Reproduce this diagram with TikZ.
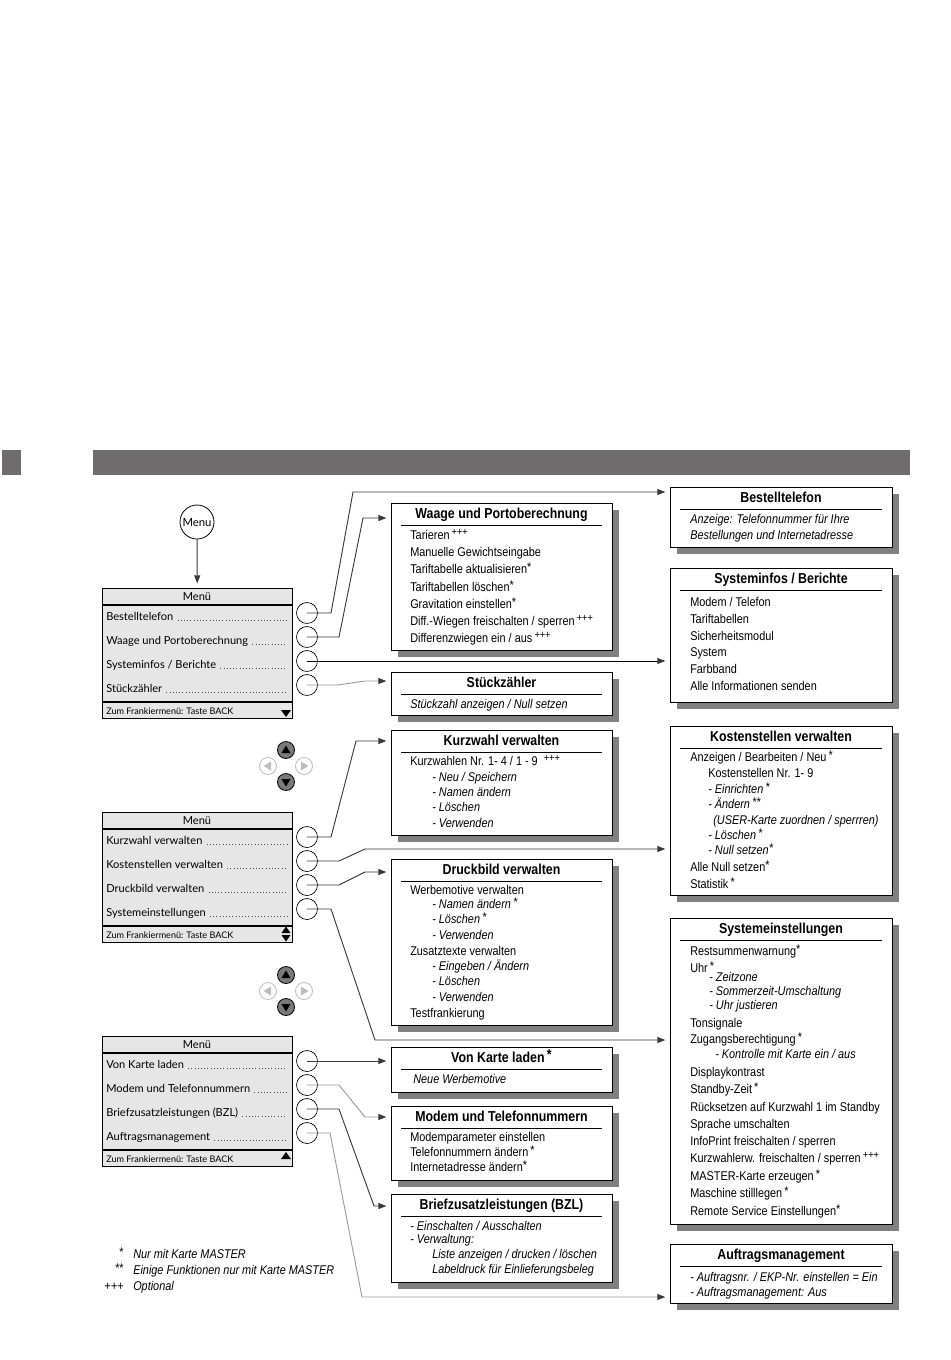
\documentclass[tikz,border=0pt]{standalone}
\usepackage{fontspec}
\setmainfont{Liberation Sans}[FakeStretch=0.86]
\newfontfamily\menufont{Lato}
\usetikzlibrary{arrows.meta,shadows}
\definecolor{barc}{HTML}{6E6C6D}
\definecolor{menufill}{HTML}{E6E6E6}
\definecolor{lndark}{HTML}{3A3A3A}
\definecolor{lnlight}{HTML}{9A9A9A}
\definecolor{shade}{HTML}{808080}
\definecolor{btn}{HTML}{7A7A7A}
\definecolor{btnoff}{HTML}{BDBDBD}
\newcommand\st{\raisebox{1.6pt}{*}}
\newcommand\stst{\raisebox{1.6pt}{**}}
\newcommand\pl{\raisebox{3pt}{\fontsize{8}{9}\selectfont +++}}
\tikzset{
  ibox/.style={draw=black,line width=0.8pt,fill=white,anchor=north west,inner sep=0pt,
     drop shadow={shadow xshift=4.5pt,shadow yshift=-4.5pt,fill=shade,opacity=1}},
  ttl/.style={font=\fontsize{10.8}{12}\selectfont\bfseries,inner sep=0pt,anchor=mid},
  itm/.style={font=\fontsize{9.5}{11}\selectfont,inner sep=0pt,anchor=mid west},
  iti/.style={font=\fontsize{9.5}{11}\selectfont\itshape,inner sep=0pt,anchor=mid west},
  rulel/.style={line width=0.6pt},
  mbox/.style={draw=black,line width=0.8pt,fill=menufill,anchor=north west,inner sep=0pt},
  mtxt/.style={font=\menufont\fontsize{8.3}{10}\selectfont,inner sep=0pt,anchor=mid west},
  mttl/.style={font=\menufont\fontsize{8.3}{10}\selectfont,inner sep=0pt,anchor=mid},
  mfoot/.style={font=\menufont\fontsize{6.8}{8}\selectfont,inner sep=0pt,anchor=mid west},
  leader/.style={line width=0.55pt,draw=black!70,dash pattern=on 0.5pt off 1.9pt},
  sel/.style={circle,draw=black,line width=0.5pt,minimum size=15.75pt,inner sep=0pt},
  conn/.style={draw=lndark,line width=0.7pt,-{Triangle[length=6pt,width=4.5pt,color=lndark]},shorten >=3.5pt},
  connl/.style={conn,draw=lnlight},
  btnon/.style={circle,draw=black,fill=btn,line width=0.6pt,minimum size=12.75pt,inner sep=0pt},
  btnoffs/.style={circle,draw=btnoff,fill=white,line width=0.6pt,minimum size=12.75pt,inner sep=0pt},
}
\newcommand\ibx[6]{%
  \node[ibox,minimum width={#4*0.75pt},minimum height={#5*0.75pt}] (#1) at (#2,#3) {};
  \node[ttl] (#1-t) at (#2+#4/2,#3+11.5) {#6};
  \draw[rulel] (#2+10,#3+22) -- (#2+#4-10,#3+22);}
\newcommand\li[5]{\node[#2] (#1) at (#3,#4) {#5};}
\newcommand\menubox[2]{%
  \node[mbox,minimum width={190*0.75pt},minimum height={130*0.75pt}] (#1) at (102,#2) {};
  \draw[line width=0.8pt] (102,#2+17) -- (292,#2+17);
  \draw[line width=0.8pt] (102,#2+114) -- (292,#2+114);
  \node[mttl] (#1-t) at (197,#2+9) {Menü};
  \node[mfoot] (#1-f) at (106,#2+123) {Zum Frankiermenü: Taste BACK};}
\newcommand\mrow[3]{%
  \node[mtxt] (#1) at (106,#2) {#3};
  \draw[leader] ([xshift=3pt]#1.base east) -- (#1.base east -| L);
  \node[sel] (#1c) at (307,#2-4) {};}
\newcommand\navpad[3]{%
  \node[btnon] (#1u) at (#2,#3-16) {};
  \node[btnon] (#1d) at (#2,#3+16) {};
  \node[btnoffs] (#1l) at (#2-18,#3) {};
  \node[btnoffs] (#1r) at (#2+18,#3) {};
  \fill (#2-4.5,#3-16+3) -- (#2+4.5,#3-16+3) -- (#2,#3-16-4.5) -- cycle;
  \fill (#2-4.5,#3+16-3) -- (#2+4.5,#3+16-3) -- (#2,#3+16+4.5) -- cycle;
  \fill[btnoff] (#2-18+3,#3-4.5) -- (#2-18+3,#3+4.5) -- (#2-18-4.5,#3) -- cycle;
  \fill[btnoff] (#2+18-3,#3-4.5) -- (#2+18-3,#3+4.5) -- (#2+18+4.5,#3) -- cycle;}
\begin{document}
\begin{tikzpicture}[x=0.75pt,y=-0.75pt]
\useasboundingbox (0,0) rectangle (950,1360);
\coordinate (L) at (287,0);
% header bar
\fill[barc] (2,450) rectangle (21,475);
\fill[barc] (93,450) rectangle (910,475);

% Menu key
\node[circle,draw=black,line width=0.6pt,minimum size=25.5pt,inner sep=0pt,
  font=\menufont\fontsize{8.5}{10}\selectfont] (menukey) at (197,522) {Menu};

% ---------- menu 1
\menubox{m1}{588}
\mrow{m1a}{617}{Bestelltelefon}
\mrow{m1b}{641}{Waage und Portoberechnung}
\mrow{m1c}{665}{Systeminfos / Berichte}
\mrow{m1d}{689}{Stückzähler}
\fill (281,710) -- (291,710) -- (286,717) -- cycle;
\draw[conn] (menukey) -- (m1);

\navpad{p1}{286}{766}

% ---------- menu 2
\menubox{m2}{812}
\mrow{m2a}{841}{Kurzwahl verwalten}
\mrow{m2b}{865}{Kostenstellen verwalten}
\mrow{m2c}{889}{Druckbild verwalten}
\mrow{m2d}{913}{Systemeinstellungen}
\fill (281.5,933) -- (290.5,933) -- (286,926.5) -- cycle;
\fill (281.5,935) -- (290.5,935) -- (286,941.5) -- cycle;

\navpad{p2}{286}{991}

% ---------- menu 3
\menubox{m3}{1036}
\mrow{m3a}{1065}{Von Karte laden}
\mrow{m3b}{1089}{Modem und Telefonnummern}
\mrow{m3c}{1113}{Briefzusatzleistungen (BZL)}
\mrow{m3d}{1137}{Auftragsmanagement}
\fill (281,1159) -- (291,1159) -- (286,1152) -- cycle;

% ---------- right column
\ibx{bt}{670}{487}{222}{60}{Bestelltelefon}
\li{bt1}{iti}{690}{520}{Anzeige: Telefonnummer für Ihre}
\li{bt2}{iti}{690}{536}{Bestellungen und Internetadresse}

\ibx{si}{670}{568}{222}{134}{Systeminfos / Berichte}
\li{si1}{itm}{690}{603}{Modem / Telefon}
\li{si2}{itm}{690}{620}{Tariftabellen}
\li{si3}{itm}{690}{637}{Sicherheitsmodul}
\li{si4}{itm}{690}{653}{System}
\li{si5}{itm}{690}{670}{Farbband}
\li{si6}{itm}{690}{687}{Alle Informationen senden}

\ibx{ks}{670}{726}{222}{169}{Kostenstellen verwalten}
\li{ks1}{itm}{690}{758}{Anzeigen / Bearbeiten / Neu\,\st}
\li{ks2}{itm}{708}{774}{Kostenstellen Nr. 1- 9}
\li{ks3}{iti}{708}{790}{- Einrichten\,\st}
\li{ks4}{iti}{708}{805}{- Ändern\,\stst}
\li{ks5}{iti}{713}{821}{(USER-Karte zuordnen / sperrren)}
\li{ks6}{iti}{708}{836}{- Löschen\,\st}
\li{ks7}{iti}{708}{851}{- Null setzen\st}
\li{ks8}{itm}{690}{868}{Alle Null setzen\st}
\li{ks9}{itm}{690}{885}{Statistik\,\st}

\ibx{se}{670}{918}{222}{306}{Systemeinstellungen}
\li{se1}{itm}{690}{952}{Restsummenwarnung\st}
\li{se2}{itm}{690}{969}{Uhr\,\st}
\li{se3}{iti}{709}{978}{- Zeitzone}
\li{se4}{iti}{709}{992}{- Sommerzeit-Umschaltung}
\li{se5}{iti}{709}{1006}{- Uhr justieren}
\li{se6}{itm}{690}{1024}{Tonsignale}
\li{se7}{itm}{690}{1040}{Zugangsberechtigung\,\st}
\li{se8}{iti}{715}{1055}{- Kontrolle mit Karte ein / aus}
\li{se9}{itm}{690}{1073}{Displaykontrast}
\li{se10}{itm}{690}{1090}{Standby-Zeit\,\st}
\li{se11}{itm}{690}{1108}{Rücksetzen auf Kurzwahl 1 im Standby}
\li{se12}{itm}{690}{1125}{Sprache umschalten}
\li{se13}{itm}{690}{1142}{InfoPrint freischalten / sperren}
\li{se14}{itm}{690}{1159}{Kurzwahlerw. freischalten / sperren\,\pl}
\li{se15}{itm}{690}{1177}{MASTER-Karte erzeugen\,\st}
\li{se16}{itm}{690}{1194}{Maschine stilllegen\,\st}
\li{se17}{itm}{690}{1212}{Remote Service Einstellungen\st}

\ibx{am}{670}{1244}{222}{59}{Auftragsmanagement}
\li{am1}{iti}{690}{1278}{- Auftragsnr. / EKP-Nr. einstellen = Ein}
\li{am2}{iti}{690}{1293}{- Auftragsmanagement: Aus}

% ---------- middle column
\ibx{wa}{391}{503}{221}{147}{Waage und Portoberechnung}
\li{wa1}{itm}{410}{536}{Tarieren\,\pl}
\li{wa2}{itm}{410}{553}{Manuelle Gewichtseingabe}
\li{wa3}{itm}{410}{570}{Tariftabelle aktualisieren\st}
\li{wa4}{itm}{410}{588}{Tariftabellen löschen\st}
\li{wa5}{itm}{410}{605}{Gravitation einstellen\st}
\li{wa6}{itm}{410}{622}{Diff.-Wiegen freischalten / sperren\,\pl}
\li{wa7}{itm}{410}{639}{Differenzwiegen ein / aus\,\pl}

\ibx{sz}{391}{672}{221}{43}{Stückzähler}
\li{sz1}{iti}{410}{705}{Stückzahl anzeigen / Null setzen}

\ibx{kw}{391}{730}{221}{105}{Kurzwahl verwalten}
\li{kw1}{itm}{410}{762}{Kurzwahlen Nr. 1- 4 / 1 - 9 \ \pl}
\li{kw2}{iti}{432}{778}{- Neu / Speichern}
\li{kw3}{iti}{432}{793}{- Namen ändern}
\li{kw4}{iti}{432}{808}{- Löschen}
\li{kw5}{iti}{432}{824}{- Verwenden}

\ibx{db}{391}{859}{221}{166}{Druckbild verwalten}
\li{db1}{itm}{410}{891}{Werbemotive verwalten}
\li{db2}{iti}{432}{905}{- Namen ändern\,\st}
\li{db3}{iti}{432}{920}{- Löschen\,\st}
\li{db4}{iti}{432}{936}{- Verwenden}
\li{db5}{itm}{410}{952}{Zusatztexte verwalten}
\li{db6}{iti}{432}{967}{- Eingeben / Ändern}
\li{db7}{iti}{432}{982}{- Löschen}
\li{db8}{iti}{432}{998}{- Verwenden}
\li{db9}{itm}{410}{1014}{Testfrankierung}

\ibx{vk}{391}{1047}{221}{45}{Von Karte laden\,\st}
\li{vk1}{iti}{413}{1080}{Neue Werbemotive}

\ibx{mo}{391}{1106}{221}{74}{Modem und Telefonnummern}
\li{mo1}{itm}{410}{1138}{Modemparameter einstellen}
\li{mo2}{itm}{410}{1153}{Telefonnummern ändern\,\st}
\li{mo3}{itm}{410}{1168}{Internetadresse ändern\st}

\ibx{bz}{391}{1194}{221}{88}{Briefzusatzleistungen (BZL)}
\li{bz1}{iti}{410}{1227}{- Einschalten / Ausschalten}
\li{bz2}{iti}{410}{1240}{- Verwaltung:}
\li{bz3}{iti}{432}{1255}{Liste anzeigen / drucken / löschen}
\li{bz4}{iti}{432}{1270}{Labeldruck für Einlieferungsbeleg}

% ---------- legend
\node[itm,anchor=mid east] (lg1s) at (124,1255) {\st};
\li{lg1}{iti}{133}{1255}{Nur mit Karte MASTER}
\node[itm,anchor=mid east] (lg2s) at (124,1271) {\stst};
\li{lg2}{iti}{133}{1271}{Einige Funktionen nur mit Karte MASTER}
\node[itm,anchor=mid east] (lg3s) at (124,1287) {+++};
\li{lg3}{iti}{133}{1287}{Optional}

% ---------- connectors
\draw[conn] (m1ac.center) -- (331,613) -- (353,492) -- ([yshift=-3.75pt]bt.north west);
\draw[conn] (m1bc.center) -- (339,637) -- (363,518) -- ([yshift=-11.25pt]wa.north west);
\draw[conn,draw=black] (m1cc.center) -- (m1cc.center -| si.west);
\draw[connl] (m1dc.center) -- (338,685) -- (365,681) -- ([yshift=-6.75pt]sz.north west);

\draw[conn] (m2ac.center) -- (331,837) -- (356,741) -- ([yshift=-8.25pt]kw.north west);
\draw[conn] (m2bc.center) -- (339,861) -- (365,849) -- ([yshift=-92.25pt]ks.north west);
\draw[conn] (m2cc.center) -- (339,885) -- (365,872) -- ([yshift=-9.75pt]db.north west);
\draw[conn] (m2dc.center) -- (331,909) -- (375,1040) -- ([yshift=-91.5pt]se.north west);

\draw[conn] (m3ac.center) -- (m3ac.center -| vk.west);
\draw[connl] (m3bc.center) -- (339,1085) -- (365,1117) -- ([yshift=-8.25pt]mo.north west);
\draw[conn] (m3cc.center) -- (339,1109) -- (374,1206) -- ([yshift=-9pt]bz.north west);
\draw[connl] (m3dc.center) -- (330,1133) -- (362,1297) -- ([yshift=-39.75pt]am.north west);
\end{tikzpicture}
\end{document}
